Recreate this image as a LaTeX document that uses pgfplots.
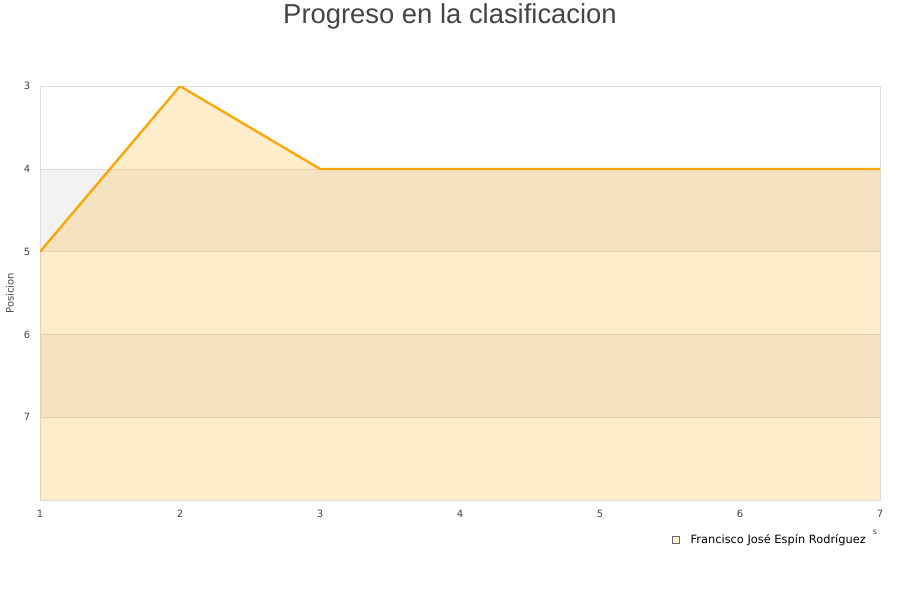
\documentclass[border=0pt]{standalone}
\usepackage{fontspec}
\setmainfont{DejaVu Sans}
\newfontfamily\titlefont{Liberation Sans}
\usepackage{pgfplots}
\pgfplotsset{compat=1.18}

\definecolor{linecol}{RGB}{255,165,0}
\definecolor{legfill}{RGB}{255,237,204}
\definecolor{gridcol}{RGB}{221,221,221}
\definecolor{bandcol}{RGB}{242,242,242}
\definecolor{txtcol}{RGB}{68,68,68}

\begin{document}
\begin{tikzpicture}
\begin{axis}[
  set layers,
  at={(40pt,100pt)}, anchor=south west,
  scale only axis, width=840pt, height=414pt,
  xmin=1, xmax=7, ymin=3, ymax=8,
  y dir=reverse,
  xtick={1,2,3,4,5,6,7},
  ytick={3,4,5,6,7},
  major tick length=0pt,
  ymajorgrids,
  major grid style={color=gridcol, line width=0.8pt},
  axis line style={color=gridcol, line width=0.8pt},
  /pgf/number format/assume math mode=true,
  ticklabel style={font=\fontsize{10}{12}\selectfont, color=txtcol},
  xticklabel style={anchor=center, yshift=-14pt},
  yticklabel style={anchor=center, xshift=-13pt},
  ylabel={Posicion},
  ylabel style={at={(axis description cs:-0.0357,0.5)}, anchor=center, font=\fontsize{10}{12}\selectfont, color=txtcol},
  legend style={at={(axis description cs:0.749,-0.096)}, anchor=west, draw=none, fill=none,
    font=\fontsize{11.4}{13}\selectfont},
  legend image code/.code={%
    \path[draw=gray!80!black, fill=legfill, line width=0.7pt] (0pt,-3.5pt) rectangle (7pt,3.5pt);
    \path[draw=none, fill=none] (0pt,0pt) -- (16pt,0pt);},
]
% alternating grey bands behind the grid
\addplot[draw=none, fill=bandcol, forget plot, on layer=axis background]
  coordinates {(1,4) (7,4) (7,5) (1,5) (1,4)};
\addplot[draw=none, fill=bandcol, forget plot, on layer=axis background]
  coordinates {(1,6) (7,6) (7,7) (1,7) (1,6)};
% shaded area under the ranking line, down to the bottom of the axis
\addplot[draw=none, fill=linecol, fill opacity=0.2, forget plot]
  coordinates {(1,8) (1,5) (2,3) (3,4) (4,4) (5,4) (6,4) (7,4) (7,8) (1,8)};
\addplot[color=linecol, line width=2.3pt, line join=round]
  coordinates {(1,5) (2,3) (3,4) (4,4) (5,4) (6,4) (7,4)};
\addlegendentry{Francisco José Espín Rodríguez}
\end{axis}
\node[font=\fontsize{27.4}{32}\titlefont, color=txtcol] at (450pt,584pt) {Progreso en la clasificacion};
\node[font=\fontsize{8}{9}\selectfont, color=txtcol] at (875pt,68pt) {s};
% full canvas extent
\path (0pt,0pt) rectangle (900pt,600pt);
\end{tikzpicture}
\end{document}
